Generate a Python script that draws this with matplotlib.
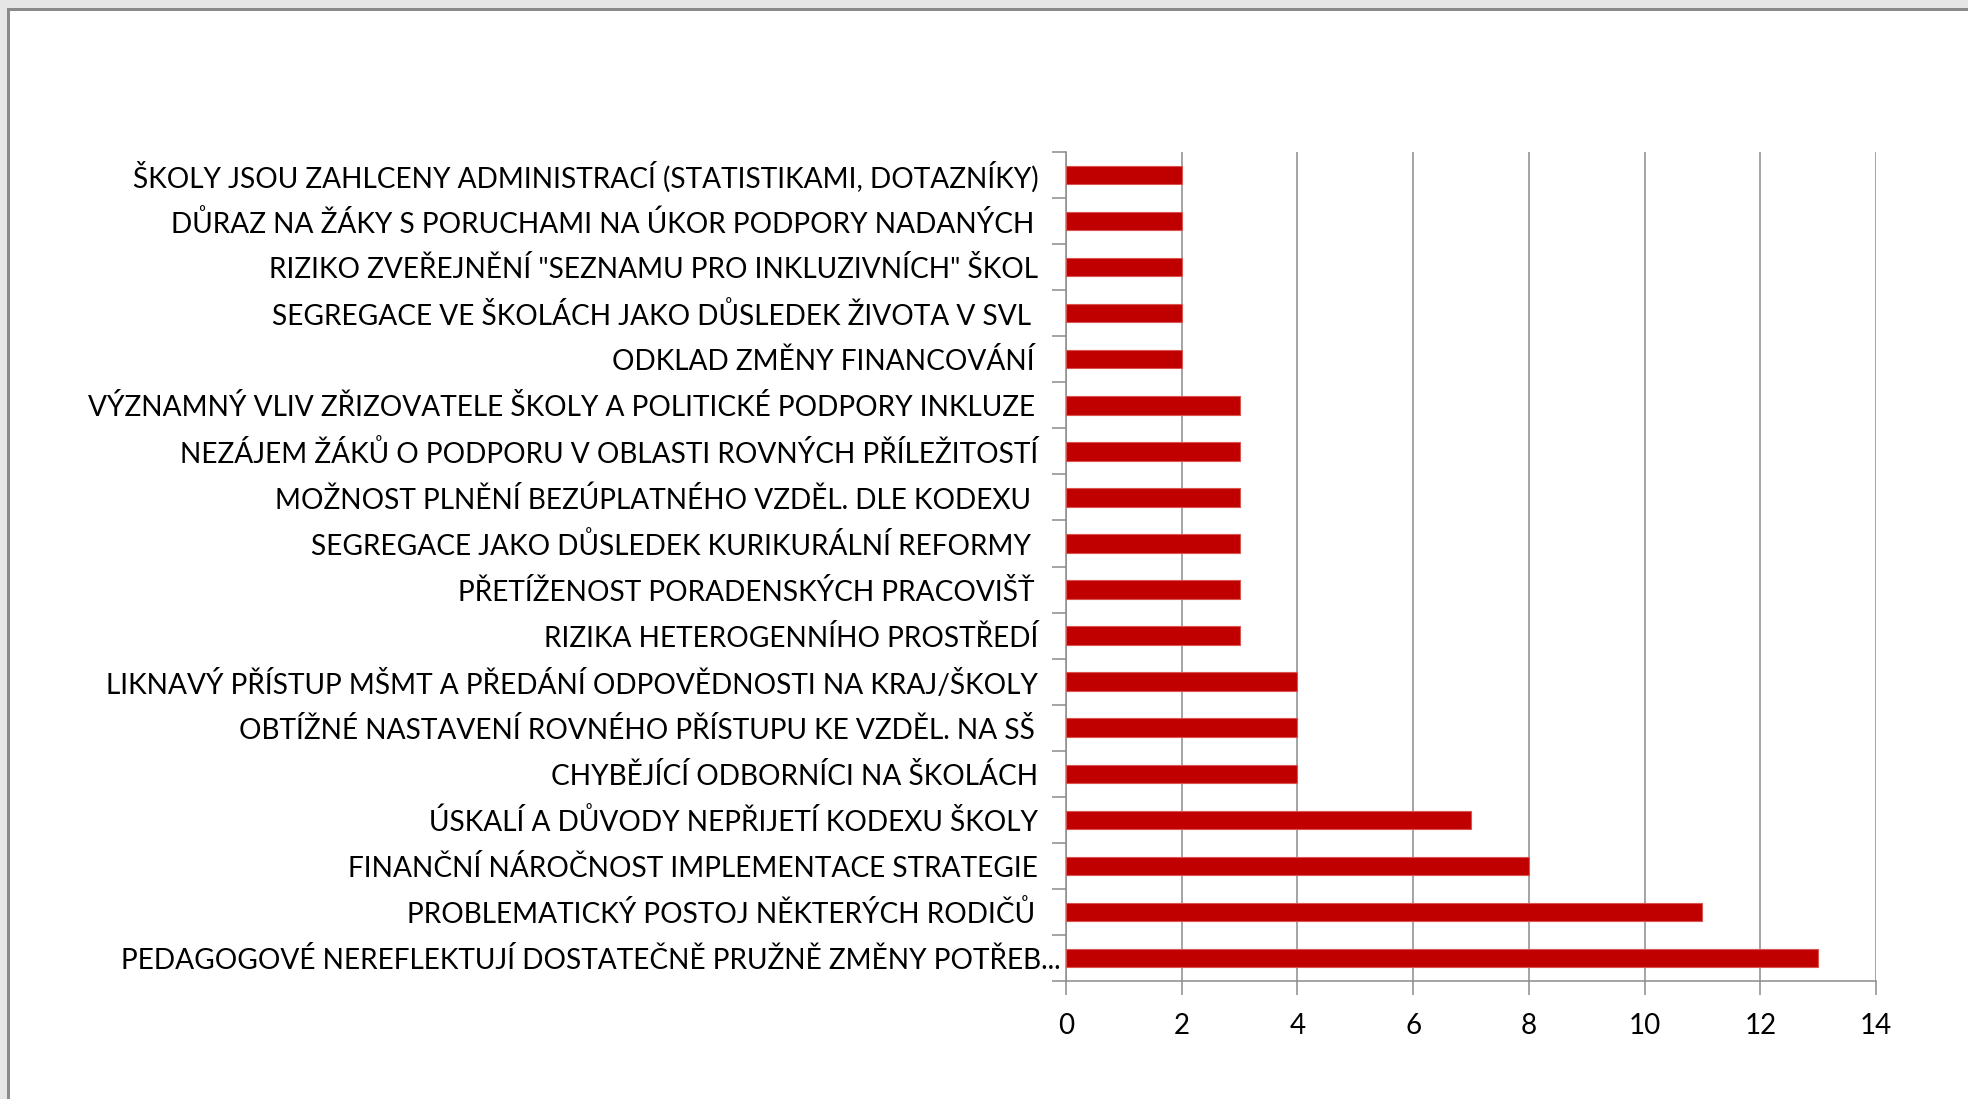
import matplotlib
matplotlib.use("Agg")
import matplotlib.pyplot as plt
from matplotlib.patches import Rectangle
from matplotlib.transforms import ScaledTranslation

# categories listed bottom to top (same order as the bars are drawn)
labels = [
    "PEDAGOGOVÉ NEREFLEKTUJÍ DOSTATEČNĚ PRUŽNĚ ZMĚNY POTŘEB...",
    "PROBLEMATICKÝ POSTOJ NĚKTERÝCH RODIČŮ\u2009",
    "FINANČNÍ NÁROČNOST IMPLEMENTACE STRATEGIE",
    "ÚSKALÍ A DŮVODY NEPŘIJETÍ KODEXU ŠKOLY",
    "CHYBĚJÍCÍ ODBORNÍCI NA ŠKOLÁCH",
    "OBTÍŽNÉ NASTAVENÍ ROVNÉHO PŘÍSTUPU KE VZDĚL. NA SŠ\u2009",
    "LIKNAVÝ PŘÍSTUP MŠMT A PŘEDÁNÍ ODPOVĚDNOSTI NA KRAJ/ŠKOLY",
    "RIZIKA HETEROGENNÍHO PROSTŘEDÍ",
    "PŘETÍŽENOST PORADENSKÝCH PRACOVIŠŤ\u2009",
    "SEGREGACE JAKO DŮSLEDEK KURIKURÁLNÍ REFORMY ",
    "MOŽNOST PLNĚNÍ BEZÚPLATNÉHO VZDĚL. DLE KODEXU ",
    "NEZÁJEM ŽÁKŮ O PODPORU V OBLASTI ROVNÝCH PŘÍLEŽITOSTÍ",
    "VÝZNAMNÝ VLIV ZŘIZOVATELE ŠKOLY A POLITICKÉ PODPORY INKLUZE\u2009",
    "ODKLAD ZMĚNY FINANCOVÁNÍ\u2009",
    "SEGREGACE VE ŠKOLÁCH JAKO DŮSLEDEK ŽIVOTA V SVL ",
    "RIZIKO ZVEŘEJNĚNÍ \"SEZNAMU PRO INKLUZIVNÍCH\" ŠKOL",
    "DŮRAZ NA ŽÁKY S PORUCHAMI NA ÚKOR PODPORY NADANÝCH\u2009",
    "ŠKOLY JSOU ZAHLCENY ADMINISTRACÍ (STATISTIKAMI, DOTAZNÍKY)",
]
counts = [13, 11, 8, 7, 4, 4, 4, 3, 3, 3, 3, 3, 3, 2, 2, 2, 2, 2]
xticks = [0, 2, 4, 6, 8, 10, 12, 14]

plt.rcParams['font.family'] = ['Lato', 'DejaVu Sans']

fig = plt.figure(figsize=(19.68, 10.99), dpi=100)
fig.patch.set_facecolor('white')

# grey window frame on top and left
fig.add_artist(Rectangle((0, 1 - 8 / 1099), 1, 8 / 1099, transform=fig.transFigure,
                         facecolor='#e6e6e6', edgecolor='none'))
fig.add_artist(Rectangle((0, 0), 7 / 1968, 1, transform=fig.transFigure,
                         facecolor='#e6e6e6', edgecolor='none'))
fig.add_artist(Rectangle((7 / 1968, 1 - 11 / 1099), 1, 3 / 1099, transform=fig.transFigure,
                         facecolor='#8a8a8a', edgecolor='none'))
fig.add_artist(Rectangle((7 / 1968, 0), 3 / 1968, 1 - 8 / 1099, transform=fig.transFigure,
                         facecolor='#8a8a8a', edgecolor='none'))

ax = fig.add_axes([1066 / 1968, 1 - 981 / 1099, (1876 - 1066) / 1968, (981 - 152) / 1099])

y = range(len(labels))
ax.barh(y, counts, height=0.4, color='#C00000', edgecolor='#d9534f', linewidth=0.8, zorder=3)

ax.set_xlim(0, 14)
ax.set_ylim(-0.5, len(labels) - 0.5)
ax.set_xticks(xticks)
ax.set_xticklabels([str(t) for t in xticks], fontsize=20)
ax.xaxis.grid(True, color='#8c8c8c', linewidth=1.1, zorder=0)

# category labels centred on bars, tick marks on the boundaries
ax.set_yticks(list(y))
ax.set_yticklabels(labels, fontsize=20.2)
ax.set_yticks([i - 0.5 for i in range(len(labels) + 1)], minor=True)
ax.tick_params(axis='y', which='major', length=0, pad=20)
ax.tick_params(axis='y', which='minor', length=10, width=1.1, color='#8c8c8c')
ax.tick_params(axis='x', length=10, width=1.1, color='#8c8c8c', pad=13)

# the truncated label sits closer to the axis
first = ax.get_yticklabels()[0]
first.set_transform(first.get_transform() + ScaledTranslation(0.22, 0, fig.dpi_scale_trans))

for side in ['top', 'right']:
    ax.spines[side].set_visible(False)
ax.spines['left'].set_color('#8c8c8c')
ax.spines['bottom'].set_color('#8c8c8c')
ax.spines['left'].set_linewidth(1.1)
ax.spines['bottom'].set_linewidth(1.1)

fig.savefig('out.png', dpi=100)
